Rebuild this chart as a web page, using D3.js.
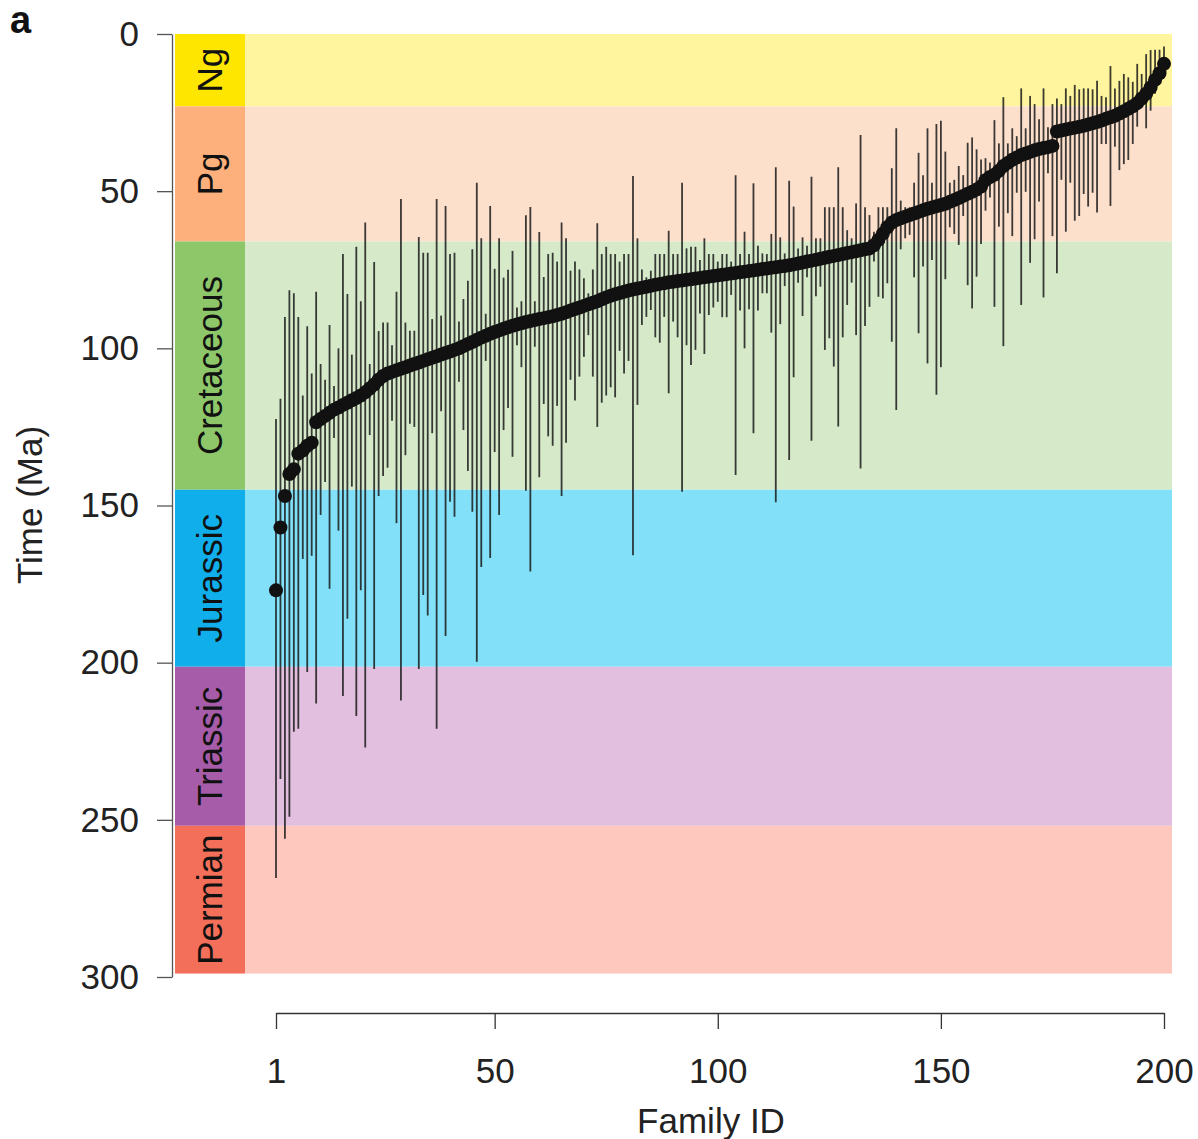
<!DOCTYPE html>
<html>
<head>
<meta charset="utf-8">
<script src="https://cdn.jsdelivr.net/npm/d3@7"></script>
<style>
  body { margin: 0; background: #fff; }
  text { font-family: "Liberation Sans", Arial, sans-serif; }
</style>
</head>
<body>
<svg id="chart" width="1198" height="1139"></svg>
<script>
// geological periods (Ma)
const periodNames = ["Ng", "Pg", "Cretaceous", "Jurassic", "Triassic", "Permian"];
const periodStart = [0, 23.03, 66, 145, 201.3, 251.9];
const periodEnd = [23.03, 66, 145, 201.3, 251.9, 298.9];

// mean age of each family, ordered by family ID 1..200
const familyMean = [
  177, 157, 147, 140, 138.5, 133.5, 132.5, 131, 130, 123.5,
  122.5, 121.5, 120.5, 119.5, 118.8, 118, 117.3, 116.5, 115.8, 115,
  114, 112.8, 111.5, 110, 108.8, 108, 107.5, 107, 106.5, 106,
  105.5, 105, 104.5, 104, 103.5, 103, 102.5, 102, 101.5, 101,
  100.5, 100, 99.3, 98.6, 98, 97.3, 96.6, 96, 95.4, 94.8,
  94.3, 93.8, 93.3, 92.8, 92.4, 92, 91.6, 91.3, 91, 90.7,
  90.4, 90.1, 89.8, 89.4, 89, 88.5, 88, 87.5, 87, 86.5,
  86, 85.5, 85, 84.4, 83.8, 83.3, 82.8, 82.4, 82, 81.6,
  81.3, 81, 80.7, 80.4, 80.1, 79.8, 79.5, 79.3, 79, 78.8,
  78.6, 78.4, 78.2, 78, 77.8, 77.6, 77.4, 77.2, 77, 76.8,
  76.6, 76.4, 76.2, 76, 75.8, 75.6, 75.4, 75.2, 75, 74.8,
  74.6, 74.4, 74.2, 74, 73.8, 73.6, 73.3, 73, 72.7, 72.4,
  72.1, 71.8, 71.5, 71.2, 70.9, 70.6, 70.3, 70, 69.7, 69.4,
  69.1, 68.8, 68.5, 68.2, 67.2, 65.5, 63.5, 61.5, 60, 59.2,
  58.6, 58.1, 57.6, 57.1, 56.6, 56.1, 55.6, 55.2, 54.8, 54.4,
  54, 53.4, 52.8, 52.2, 51.5, 50.8, 50.2, 49.5, 48.5, 46.5,
  45.5, 44.8, 43.5, 42, 41, 40, 39.3, 38.5, 38, 37.5,
  37, 36.6, 36.3, 36, 35.6, 31, 30.7, 30.4, 30.1, 29.8,
  29.5, 29.2, 28.8, 28.4, 28, 27.5, 27, 26.5, 26, 25.3,
  24.6, 23.8, 23, 22, 20.5, 19, 17, 14.6, 12.5, 9.5
];

// youngest bound of the age interval
const familyYoung = [
  122.5, 116, 90, 81.5, 82.5, 90, 115, 93, 108, 82,
  105, 110, 92.6, 112, 100, 70, 82.7, 102, 67.7, 85,
  60, 105, 72.5, 94.5, 91.8, 91.8, 99, 82, 52.5, 91.8,
  94.4, 94.4, 64.6, 69.6, 69.6, 90.7, 52.5, 89.6, 54.7, 70,
  69.6, 91.5, 84.3, 78.5, 68.5, 47.3, 65, 89, 54.7, 74.7,
  65, 77.5, 75, 69, 87, 85, 57.7, 55, 85, 63,
  77.3, 70, 69.6, 72.4, 60, 65, 75.3, 72.4, 74.9, 77.7,
  82.5, 74.9, 60.2, 70, 67.7, 70, 70, 72.4, 70, 70,
  45.2, 65, 74.9, 77.4, 75.3, 70, 70, 70, 62.6, 70,
  70, 47.3, 68.2, 67.7, 67.7, 71.9, 65, 70, 70, 72.4,
  70, 70, 72.4, 44.9, 70, 62.9, 70, 47.5, 67.4, 69.8,
  70, 63.6, 42.4, 64.7, 69.8, 46.7, 54.9, 68.2, 64.7, 67.4,
  45.4, 65, 65, 55.1, 55.1, 55.1, 42.4, 55.1, 62.4, 65,
  53.9, 32.1, 55.1, 57.6, 62.9, 55.1, 55.1, 55.1, 42.7, 30,
  53, 55.1, 55.1, 47.3, 37.8, 44.9, 30, 47.3, 28.6, 27.6,
  37.4, 47.3, 46.4, 42, 44.9, 34.6, 32.9, 36.7, 39.9, 39.5,
  40.9, 27.4, 34.8, 20.1, 34.8, 30, 32.5, 17.3, 30, 19.7,
  22.3, 27.1, 17.3, 29.7, 22.3, 20.5, 22.3, 17.3, 19.7, 16.2,
  17.6, 17.3, 17.3, 17.6, 14.9, 19.7, 20.1, 10.2, 17.3, 14.9,
  12.7, 13.8, 15.2, 9.5, 12.7, 6.4, 5.1, 5, 5, 4
];

// oldest bound of the age interval
const familyOld = [
  268.5, 237, 256, 249, 222, 221, 167, 203, 166, 213,
  153, 142.5, 176.5, 128.5, 158, 210.6, 186, 144, 217, 177,
  227, 127.6, 202, 147, 140.6, 138, 123, 155.6, 212, 134,
  124, 125, 202, 178.5, 185, 127, 221, 120, 191.5, 148.8,
  153.6, 110.6, 126, 139, 152, 199.7, 169.6, 104, 166.7, 133,
  153, 126, 119, 134.5, 99, 106, 145.3, 171, 99.5, 141,
  117.7, 128, 131, 118.3, 147, 130, 110, 116.6, 109, 102.7,
  95.8, 109, 125, 117.3, 115, 112.4, 115.6, 100.8, 108, 104,
  165.8, 118, 92.6, 90, 87.8, 96.5, 98.2, 90, 114.3, 91.5,
  96.5, 145.6, 99, 105.3, 100.5, 88.9, 101.8, 89.4, 87, 85.2,
  90.1, 90.1, 83, 140.3, 88, 100, 87.6, 127, 88, 82.5,
  82.5, 95, 149, 92.3, 80.2, 135.5, 109.2, 79.1, 89.7, 77.4,
  129.4, 83.4, 80.4, 100.5, 96.8, 105.8, 124.9, 96.5, 86.2, 79.1,
  95.8, 138.2, 92.9, 86.8, 72.4, 83.6, 84.1, 79.3, 97.9, 119.6,
  68.5, 65, 63.9, 77.4, 95.2, 74, 104.8, 71.9, 114.8, 106,
  78, 61.5, 63.6, 67.1, 57.9, 79.9, 87.3, 77.2, 66.8, 56.2,
  52, 86.8, 61.3, 99.3, 57, 64.3, 50.5, 86.2, 50.2, 72.8,
  65.3, 53.3, 83.8, 44.3, 64.3, 76.1, 46.4, 62.9, 47.3, 59.4,
  57.9, 50.9, 54.9, 50.5, 56.8, 35, 35, 54.7, 35.9, 43.3,
  41.4, 40.1, 35, 29.5, 23.1, 30, 24.4, 19, 15, 13
];

const yTicks = [0, 50, 100, 150, 200, 250, 300];
const xTicks = [1, 50, 100, 150, 200];

const periodColor = {
  Ng: "#ffe600", Pg: "#fdb07c", Cretaceous: "#8dc76a",
  Jurassic: "#10afec", Triassic: "#a65ca8", Permian: "#f36f5a"
};
const periodFill = {
  Ng: "#fff59e", Pg: "#fde0cc", Cretaceous: "#d6eaca",
  Jurassic: "#82e1f9", Triassic: "#e2bfdf", Permian: "#ffc8bf"
};

const families = familyMean.map((m, i) => ({
  id: i + 1, mean: m, young: familyYoung[i], old: familyOld[i]
}));
const periods = periodNames.map((n, i) => ({ name: n, start: periodStart[i], end: periodEnd[i] }));

const svg = d3.select("#chart");

const y = d3.scaleLinear().domain([0, 300]).range([34, 977]);
const x = d3.scaleLinear().domain([1, 200]).range([276, 1164]);

const labelLeft = 175, labelRight = 245, bandRight = 1172;

// background bands
svg.append("g").selectAll("rect")
  .data(periods)
  .join("rect")
  .attr("x", labelRight)
  .attr("y", d => y(d.start))
  .attr("width", bandRight - labelRight)
  .attr("height", d => y(d.end) - y(d.start))
  .attr("fill", d => periodFill[d.name]);

// label column
const lab = svg.append("g");
lab.selectAll("rect")
  .data(periods)
  .join("rect")
  .attr("x", labelLeft)
  .attr("y", d => y(d.start))
  .attr("width", labelRight - labelLeft)
  .attr("height", d => y(d.end) - y(d.start))
  .attr("fill", d => periodColor[d.name]);

lab.selectAll("text")
  .data(periods)
  .join("text")
  .attr("transform", d => "translate(" + ((labelLeft + labelRight) / 2 + 12) + "," + y((d.start + d.end) / 2) + ") rotate(-90)")
  .attr("text-anchor", "middle")
  .style("font-size", "35px")
  .attr("fill", "#111")
  .text(d => d.name);

// error bars
svg.append("g").selectAll("line")
  .data(families)
  .join("line")
  .attr("x1", d => x(d.id))
  .attr("x2", d => x(d.id))
  .attr("y1", d => y(d.young))
  .attr("y2", d => y(d.old))
  .attr("stroke", "#1a1a1a")
  .attr("stroke-opacity", 0.85)
  .attr("stroke-width", 1.8);

// points
svg.append("g").selectAll("circle")
  .data(families)
  .join("circle")
  .attr("cx", d => x(d.id))
  .attr("cy", d => y(d.mean))
  .attr("r", 7)
  .attr("fill", "#111");

// y axis
const yAxis = svg.append("g")
  .attr("transform", "translate(172,0)")
  .call(d3.axisLeft(y).tickValues(yTicks).tickSize(15).tickSizeOuter(0).tickPadding(18));
yAxis.selectAll("text").style("font-size", "35px").attr("fill", "#222");
yAxis.selectAll("line, path").attr("stroke", "#555").attr("stroke-width", 1.3);

// x axis
const xAxis = svg.append("g")
  .attr("transform", "translate(0,1013)")
  .call(d3.axisBottom(x).tickValues(xTicks).tickSize(16).tickSizeOuter(0).tickPadding(29));
xAxis.selectAll("text").style("font-size", "35px").attr("fill", "#222");
xAxis.selectAll("line, path").attr("stroke", "#333").attr("stroke-width", 1.3);

// axis titles
svg.append("text")
  .attr("transform", "translate(42,505) rotate(-90)")
  .attr("text-anchor", "middle")
  .style("font-size", "35px")
  .attr("fill", "#222")
  .text("Time (Ma)");

svg.append("text")
  .attr("x", 711)
  .attr("y", 1133)
  .attr("text-anchor", "middle")
  .style("font-size", "35px")
  .attr("fill", "#222")
  .text("Family ID");

svg.append("text")
  .attr("x", 10)
  .attr("y", 33)
  .style("font-size", "38px")
  .style("font-weight", "bold")
  .attr("fill", "#111")
  .text("a");
</script>
</body>
</html>
